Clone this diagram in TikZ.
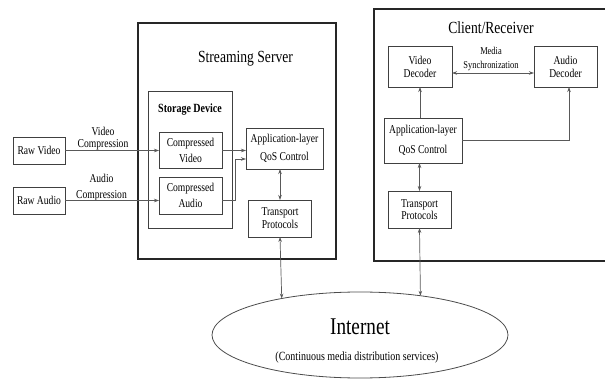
\documentclass[tikz,border=0pt]{standalone}
\usepackage{fontspec}
\setmainfont[FakeStretch=0.8]{Liberation Serif}
\usetikzlibrary{arrows.meta,calc,shapes.geometric}
\begin{document}
\begin{tikzpicture}[x=1pt,y=-1pt,
  box/.style={draw=black!75, line width=0.9pt, inner sep=0pt, outer sep=0pt, align=center, font=\fontsize{12}{13}\selectfont},
  bigbox/.style={draw=black!85, line width=1.6pt, inner sep=0pt, outer sep=0pt},
  lab/.style={inner sep=0pt, outer sep=0pt, align=center},
  tip/.tip={Stealth[length=5pt,width=3.5pt]},
  conn/.style={draw=black!65, line width=0.7pt, -tip},
  conntwo/.style={draw=black!65, line width=0.7pt, tip-tip}]
\useasboundingbox (0,0) rectangle (605,379);

% Streaming server
\node[bigbox, minimum width=198pt, minimum height=236pt] (server) at (237,141) {};
\node[lab, font=\fontsize{17}{20}\selectfont] (servertitle) at (245.5,59) {Streaming Server};
\node[box, minimum width=84pt, minimum height=137pt] (store) at (190,159.5) {};
\node[lab, font=\fontsize{12.5}{14}\selectfont\bfseries] (storetitle) at (190,110) {Storage Device};

\node[box, minimum width=52pt, minimum height=27pt] (rawv) at (39,150.5) {Raw Video};
\node[box, minimum width=52pt, minimum height=27pt] (rawa) at (39,200.5) {Raw Audio};
\node[box, minimum width=63pt, minimum height=36pt, font=\fontsize{12}{16}\selectfont] (cv) at (190.5,150.5) {Compressed\\Video};
\node[box, minimum width=63pt, minimum height=37pt, font=\fontsize{12}{16}\selectfont] (ca) at (190.5,195.5) {Compressed\\Audio};
\node[box, minimum width=77pt, minimum height=41pt, font=\fontsize{12}{18}\selectfont] (sqos) at (284.5,148.5) {Application-layer\\QoS Control};
\node[box, minimum width=63pt, minimum height=37pt, font=\fontsize{12}{13}\selectfont] (stp) at (280,218.5) {Transport\\Protocols};

\node[lab, font=\fontsize{12}{12}\selectfont] (vclab) at (103,139) {Video\\Compression};
\node[lab, font=\fontsize{12}{16}\selectfont] (aclab) at (101.5,187.5) {Audio\\Compression};

\draw[conn] (rawv.east) -- (cv.west);
\draw[conn] (rawa.east) -- (rawa.east -| ca.west);
\draw[conn] (cv.east) -- (cv.east -| sqos.west);
\draw[conn] (rawa.east -| ca.east) -- ++(13,0) |- ($(sqos.west)+(0,10.5)$);
\draw[conntwo] (stp.north) -- (stp.north |- sqos.south);

% Client / receiver
\draw[draw=black!85, line width=1.6pt] (605,9) -| (374,261) -- (605,261);
\node[lab, font=\fontsize{17}{20}\selectfont] (clienttitle) at (491,28) {Client/Receiver};
\node[box, minimum width=64pt, minimum height=41pt] (vdec) at (420,66.5) {Video\\Decoder};
\node[box, minimum width=63pt, minimum height=41pt] (adec) at (565.5,66.5) {Audio\\Decoder};
\node[box, minimum width=78pt, minimum height=45pt, font=\fontsize{12}{20}\selectfont] (cqos) at (423,140.5) {Application-layer\\QoS Control};
\node[box, minimum width=63pt, minimum height=37pt, font=\fontsize{12}{12.5}\selectfont] (ctp) at (419.5,209.5) {Transport\\Protocols};
\node[lab, font=\fontsize{10.5}{14}\selectfont] (synclab) at (491,59) {Media\\Synchronization};

\draw[conntwo] ($(vdec.east)+(0,6.5)$) -- ($(adec.west)+(0,6.5)$);
\draw[conn] (vdec.south |- cqos.north) -- (vdec.south);
\draw[conn] (cqos.east) -| ($(adec.south)+(3.5,0)$);
\draw[conntwo] (ctp.north) -- (ctp.north |- cqos.south);

% Internet
\node[ellipse, draw=black!70, line width=0.8pt, minimum width=296pt, minimum height=86pt, inner sep=0pt, outer sep=0pt] (inet) at (360,335) {};
\node[lab, font=\fontsize{24}{24}\selectfont] (inettxt) at (360,327) {Internet};
\node[lab, font=\fontsize{12.5}{13}\selectfont] (inetsub) at (357,357) {(Continuous media distribution services)};

\draw[conntwo] (stp.south) -- (inet.155.65);
\draw[conntwo] (ctp.south) -- (inet.33.2);
\end{tikzpicture}
\end{document}
